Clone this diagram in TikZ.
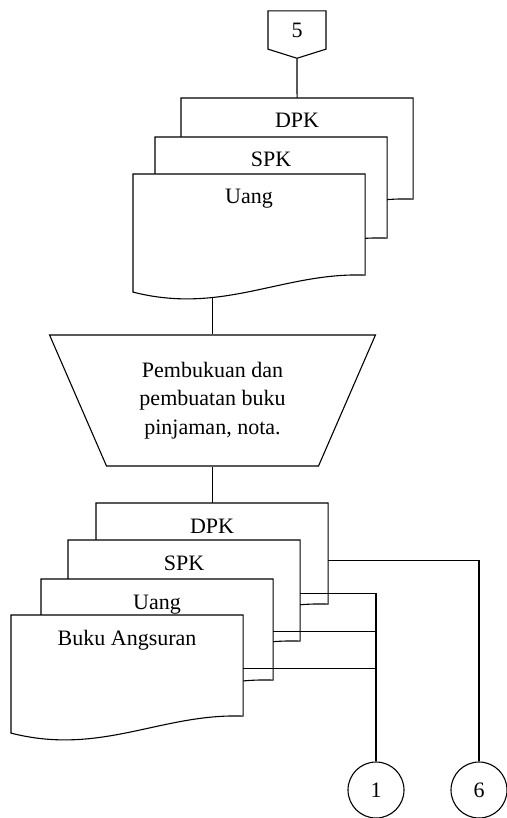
\documentclass[tikz,border=0pt]{standalone}
\usepackage{fontspec}
\setmainfont{Liberation Serif}
\usetikzlibrary{calc,shapes,positioning}

\begin{document}
\begin{tikzpicture}[x=1pt,y=-1pt,line width=1.1pt,font=\fontsize{22}{28.5}\selectfont]
    \tikzstyle{docbox} = [rectangle, minimum width=231pt, minimum height=100pt, inner sep=0pt, anchor=north west]
    \tikzstyle{doctext} = [anchor=base, inner sep=0pt]
    \tikzstyle{pnode} = [draw, trapezium, shape border rotate=180, trapezium left angle=63, trapezium right angle=63, trapezium stretches=true, minimum width=327pt, minimum height=131pt, inner sep=0pt, align=center]
    \tikzstyle{cnode} = [draw, circle, minimum size=56pt, inner sep=0pt]
    \tikzstyle{onode} = [draw, signal, signal to=south, signal pointer angle=145, minimum width=58pt, minimum height=40pt, inner sep=0pt]
    \useasboundingbox[fill=white] (0,0) rectangle (506,818);
    \node[onode] (p5) at (297,30) {5};
    % documents, back to front
    \foreach \n/\x/\y/\lbl in {dpkA/181/98/DPK, spkA/155/137/SPK, uangA/133/174/Uang, dpkB/96/503/DPK, spkB/68/540/SPK, uangB/41/579/Uang, buku/11/615/Buku Angsuran}{
        \node[docbox] (\n) at (\x,\y) {};
        \filldraw[fill=white] (\n.north west) -- (\n.north east) -- (\n.south east)
            .. controls ($(\n.south east)+(-82,-3)$) and ($(\n.south west)+(90,40)$) .. ($(\n.south west)+(0,17)$) -- cycle;
        \node[doctext] (\n-t) at ($(\n.north)+(0,30)$) {\lbl};
        \coordinate (\n-w) at ($(\n.south west)+(81,22)$);
    }
    \node[pnode] (proc) at (212.5,400.5) {Pembukuan dan\\pembuatan buku\\pinjaman, nota.};
    \node[cnode] (c1) at (376,790) {1};
    \node[cnode] (c6) at (479,790) {6};
    \draw (p5.south) -- (dpkA.north);
    \draw (proc.north |- uangA-w) -- (proc.north);
    \draw (proc.south) -- (proc.south |- dpkB.north);
    % to the connectors
    \draw ([yshift=-7pt]dpkB.east) -| (c6.north);
    \draw ([yshift=-3pt]spkB.east) -| (c1.north);
    \draw ([yshift=-2pt]uangB.east) -- ([yshift=-2pt]uangB.east -| c1.north);
    \draw ([yshift=-3pt]buku.east) -- ([yshift=-3pt]buku.east -| c1.north);
\end{tikzpicture}
\end{document}
